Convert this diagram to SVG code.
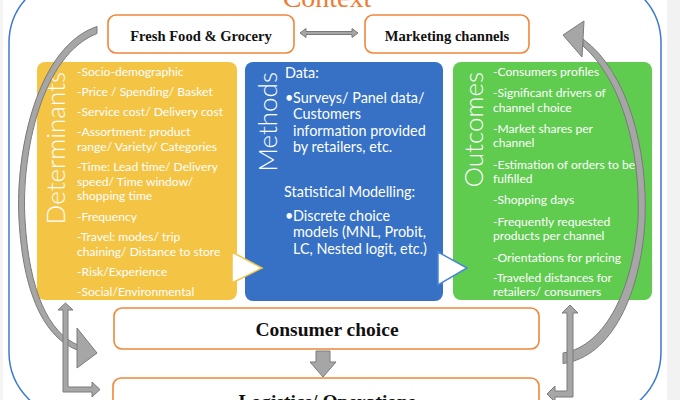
<svg xmlns="http://www.w3.org/2000/svg" width="680" height="400" viewBox="0 0 680 400">
<defs>
<style>
.ctx{fill:none;stroke:#3C7AD0;stroke-width:1.5}
.ob{fill:#fff;stroke:#F0863A;stroke-width:1.6}
.bt{font-family:"Liberation Serif","Times New Roman",serif;font-weight:bold;fill:#111;text-anchor:middle}
.wt{font-family:Lato,"Open Sans",sans-serif;fill:#fff}
.lab{font-family:Lato,"Open Sans",sans-serif;font-weight:300;font-size:26px;fill:#fff;text-anchor:end}
.arr{fill:#A6A6A6;stroke:#7A7A7A;stroke-width:1;stroke-linejoin:miter}
.det{font-size:12.1px}
.met{font-size:14.4px}
.out{font-size:12.1px}
</style>
</defs>
<rect x="0" y="0" width="680" height="400" fill="#fff"/>
<rect x="667" y="0" width="13" height="400" fill="#F2F2F2"/>
<rect x="0" y="0" width="3" height="400" fill="#F4F4F4"/>

<g id="context">
<rect class="ctx" x="9" y="-23" width="652" height="441" rx="66"/>
<text x="327" y="7" font-family="'Liberation Serif',serif" font-size="28" fill="#ED7D31" text-anchor="middle">Context</text>
</g>

<g id="fresh-food">
<rect class="ob" x="108" y="15" width="186" height="38" rx="8"/>
<text class="bt" x="201" y="41" font-size="14.6">Fresh Food &amp; Grocery</text>
</g>

<g id="marketing-channels">
<rect class="ob" x="365" y="15" width="164" height="38" rx="8"/>
<text class="bt" x="447" y="41" font-size="14.6">Marketing channels</text>
</g>

<g id="determinants">
<rect x="37" y="62" width="200" height="238" rx="8" fill="#F4C445"/>
<text class="lab" transform="translate(65,72) rotate(-90)">Determinants</text>
<g class="wt det">
<text x="77" y="76">-Socio-demographic</text>
<text x="77" y="96">-Price / Spending/ Basket</text>
<text x="77" y="116">-Service cost/ Delivery cost</text>
<text x="77" y="136">-Assortment: product</text>
<text x="77" y="151">range/ Variety/ Categories</text>
<text x="77" y="171">-Time: Lead time/ Delivery</text>
<text x="77" y="186">speed/ Time window/</text>
<text x="77" y="200">shopping time</text>
<text x="77" y="221">-Frequency</text>
<text x="77" y="241">-Travel: modes/ trip</text>
<text x="77" y="256">chaining/ Distance to store</text>
<text x="77" y="276">-Risk/Experience</text>
<text x="77" y="296">-Social/Environmental</text>
</g>
</g>

<g id="methods">
<rect x="245" y="62" width="198" height="239" rx="8" fill="#3671C6"/>
<text class="lab" transform="translate(277,72) rotate(-90)">Methods</text>
<g class="wt met">
<text x="285" y="78">Data:</text>
<text x="285" y="103">•</text>
<text x="293" y="103">Surveys/ Panel data/</text>
<text x="293" y="119">Customers</text>
<text x="293" y="136">information provided</text>
<text x="293" y="152">by retailers, etc.</text>
<text x="284" y="197">Statistical Modelling:</text>
<text x="285" y="221">•</text>
<text x="293" y="221">Discrete choice</text>
<text x="293" y="237">models (MNL, Probit,</text>
<text x="293" y="254">LC, Nested logit, etc.)</text>
</g>
</g>

<g id="outcomes">
<rect x="453" y="62" width="199" height="238" rx="8" fill="#5FCB4F"/>
<text class="lab" transform="translate(483,72) rotate(-90)">Outcomes</text>
<g class="wt out">
<text x="493" y="76">-Consumers profiles</text>
<text x="493" y="97">-Significant drivers of</text>
<text x="493" y="112">channel choice</text>
<text x="493" y="133">-Market shares per</text>
<text x="493" y="147">channel</text>
<text x="493" y="169">-Estimation of orders to be</text>
<text x="493" y="183">fulfilled</text>
<text x="493" y="204">-Shopping days</text>
<text x="493" y="226">-Frequently requested</text>
<text x="493" y="240">products per channel</text>
<text x="493" y="262">-Orientations for pricing</text>
<text x="493" y="282">-Traveled distances for</text>
<text x="493" y="296">retailers/ consumers</text>
</g>
</g>

<g id="consumer-choice">
<rect class="ob" x="114" y="308" width="425" height="41" rx="8"/>
<text class="bt" x="327" y="336" font-size="19.5">Consumer choice</text>
</g>

<g id="logistics">
<rect class="ob" x="113" y="378" width="426" height="40" rx="8"/>
<text class="bt" x="327" y="408" font-size="19.5">Logistics/ Operations</text>
</g>

<g id="connectors">
<polygon points="232,252 262,268 232,283" fill="#fff" stroke="#F4C445" stroke-width="1.5"/>
<polygon points="438,252 467,268 438,285" fill="#fff" stroke="#4A86D6" stroke-width="1.5"/>
<path class="arr" d="M300,33 L306,28.5 L306,31.5 L352,31.5 L352,28.5 L358,33 L352,37.5 L352,34.5 L306,34.5 L306,37.5 Z"/>
<path class="arr" d="M97,26.5 C38,46 15,150 19,220 C23,292 44,339 79,350.5 L79,345.5 C48,333 29,290 25,220 C21,152 42,55 97,33.5 Z"/>
<polygon class="arr" points="77,328 97,353 77,368"/>
<path class="arr" d="M583,39 C628,72 648,150 645,220 C641,293 612,357 563,363.5 L563,353 C606,346 633,288 638,220 C641,150 621,79 583,46 Z"/>
<polygon class="arr" points="563,35 584,21 582,57"/>
<path class="arr" d="M316,351 L330,351 L330,362 L336,362 L323,377 L310,362 L316,362 Z"/>
<path class="arr" d="M65.5,303 L73,310 L68,310 L68,387 L92,387 L92,382 L100,389.5 L92,397 L92,392 L63,392 L63,310 L58,310 Z"/>
<path class="arr" d="M570,305 L578,313 L573,313 L573,397 L555,397 L555,402 L547,394 L555,386 L555,391 L567,391 L567,313 L562,313 Z"/>
</g>
</svg>
